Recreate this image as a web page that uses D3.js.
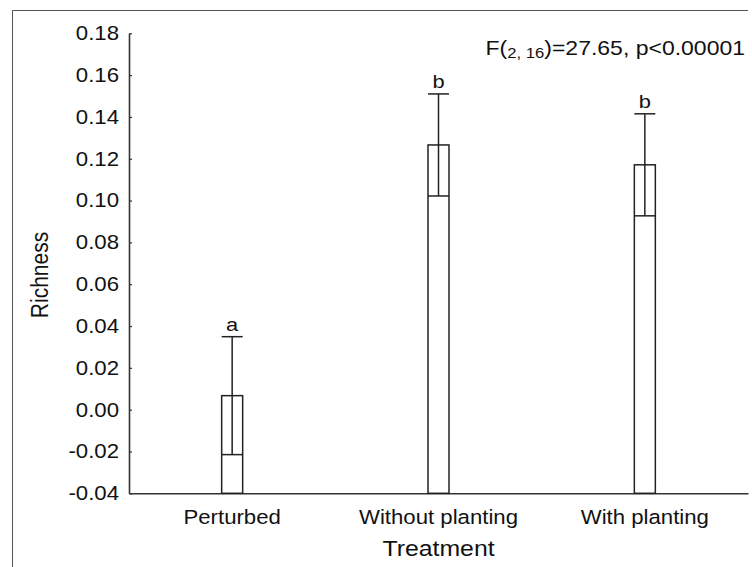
<!DOCTYPE html>
<html><head><meta charset="utf-8">
<script src="https://cdn.jsdelivr.net/npm/d3@7"></script>
<style>body{margin:0;background:#fff}svg{display:block}text{font-family:"Liberation Sans",Arial,sans-serif;fill:#111}</style>
</head><body><svg id="c" width="752" height="567"></svg>
<script>
const categories = ["Perturbed", "Without planting", "With planting"];
const means = [0.0067, 0.1266, 0.1171];
const errors = [0.0282, 0.0244, 0.0244];
const letters = ["a", "b", "b"];
const yTicks = [-0.04, -0.02, 0.00, 0.02, 0.04, 0.06, 0.08, 0.10, 0.12, 0.14, 0.16, 0.18];
const xTitle = "Treatment", yTitle = "Richness";

(function () {
const SX = 1.15; // horizontal text stretch
const svg = d3.select("#c");
const pL = 129, pR = 748, pT = 33.3, pB = 493.3;
const y = d3.scaleLinear().domain([-0.04, 0.18]).range([pB, pT]);
const x = d3.scaleBand().domain(categories).range([pL, pR]);
const bw = 21;
const fmt = d => d3.format(".2f")(d).replace("\u2212", "-");
const axisCol = "#333";

// frame
svg.append("path").attr("d", `M748,10.5H12.5V567`).attr("fill","none").attr("stroke","#555").attr("stroke-width",1);

// y axis
const ya = svg.append("g").attr("transform", `translate(${pL},0)`)
  .call(d3.axisLeft(y).tickValues(yTicks).tickSizeInner(-3).tickSizeOuter(0).tickFormat(""));
ya.select(".domain").attr("stroke", axisCol).attr("stroke-width", 1.6);
ya.selectAll(".tick line").attr("stroke", axisCol).attr("stroke-width", 1.2);
svg.append("g").selectAll("text").data(yTicks).join("text")
  .attr("transform", d => `translate(119,${y(d) + 6.9}) scale(${SX},1)`)
  .attr("text-anchor", "end").attr("font-size", 19.3).text(fmt);

// x axis
const xa = svg.append("g").attr("transform", `translate(0,${pB})`)
  .call(d3.axisBottom(x).tickSizeInner(-3).tickSizeOuter(0).tickFormat(""));
xa.select(".domain").attr("stroke", axisCol).attr("stroke-width", 1.6);
xa.selectAll(".tick line").attr("stroke", axisCol).attr("stroke-width", 1.2);
svg.append("g").selectAll("text").data(categories).join("text")
  .attr("transform", d => `translate(${x(d) + x.bandwidth()/2},${524}) scale(${SX},1)`)
  .attr("text-anchor", "middle").attr("font-size", 19.3).text(d => d);

// bars
const g = svg.append("g").attr("stroke", "#222").attr("stroke-width", 1.5).attr("fill", "none");
categories.forEach((c, i) => {
  const cx = x(c) + x.bandwidth()/2;
  const m = means[i], e = errors[i];
  g.append("rect").attr("x", cx - bw/2).attr("y", y(m)).attr("width", bw).attr("height", y(-0.04) - y(m)).attr("fill", "#fff");
  g.append("line").attr("x1", cx - bw/2).attr("x2", cx + bw/2).attr("y1", y(m - e)).attr("y2", y(m - e));
  g.append("line").attr("x1", cx).attr("x2", cx).attr("y1", y(m - e)).attr("y2", y(m + e));
  g.append("line").attr("x1", cx - bw/2).attr("x2", cx + bw/2).attr("y1", y(m + e)).attr("y2", y(m + e));
  svg.append("text").attr("transform", `translate(${cx},${y(m + e) - 5.5}) scale(${SX},1)`)
    .attr("text-anchor", "middle").attr("font-size", 19).text(letters[i]);
});

// titles
svg.append("text").attr("transform", `translate(${(pL+pR)/2},556) scale(${SX},1)`)
  .attr("text-anchor", "middle").attr("font-size", 21.6).text(xTitle);
svg.append("text").attr("transform", `translate(48,275) scale(${SX},1) rotate(-90)`)
  .attr("text-anchor", "middle").attr("font-size", 21).text(yTitle);

// annotation
const ann = svg.append("text").attr("transform", `translate(745,54.5) scale(${SX},1)`)
  .attr("text-anchor", "end").attr("font-size", 20);
ann.append("tspan").text("F(");
ann.append("tspan").attr("font-size", 14.5).attr("dy", 3).text("2, 16");
ann.append("tspan").attr("dy", -3).text(")=27.65, p<0.00001");
})();
</script></body></html>
